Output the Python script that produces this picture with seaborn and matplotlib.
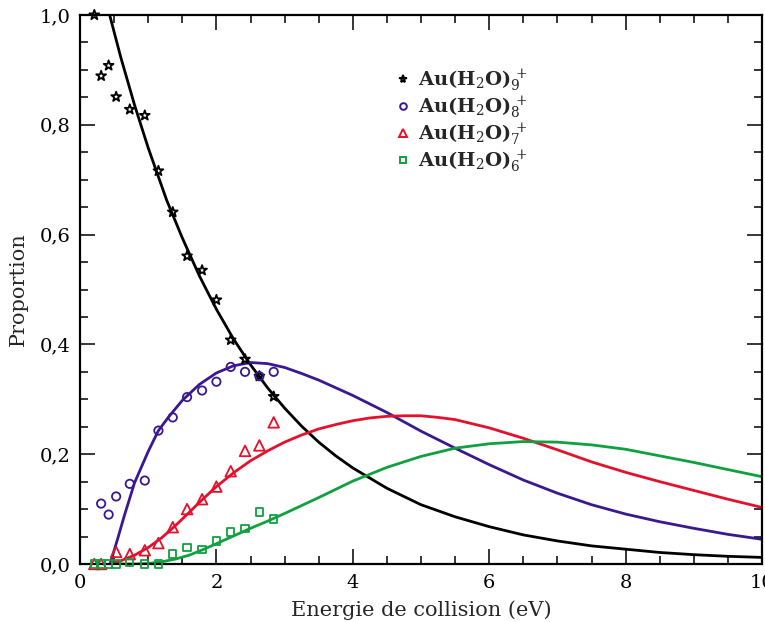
import numpy as np
import pandas as pd
import matplotlib
matplotlib.use("Agg")
import matplotlib.pyplot as plt
import seaborn as sns
from matplotlib.ticker import MultipleLocator, FuncFormatter

# ---------------- data ----------------
x_pts = [0.21, 0.31, 0.42, 0.53, 0.73, 0.95, 1.15, 1.36, 1.57, 1.79, 2.00, 2.21, 2.42, 2.63, 2.84]
y9 = [1.000, 0.889, 0.908, 0.851, 0.828, 0.817, 0.716, 0.641, 0.561, 0.535, 0.481, 0.408, 0.373, 0.342, 0.305]
y8 = [np.nan, 0.110, 0.090, 0.123, 0.146, 0.152, 0.243, 0.267, 0.304, 0.316, 0.332, 0.359, 0.350, 0.342, 0.350]
y7 = [0.000, 0.000, np.nan, 0.022, 0.018, 0.025, 0.038, 0.067, 0.100, 0.118, 0.141, 0.169, 0.206, 0.216, 0.258]
y6 = [0.000, 0.000, 0.000, 0.000, 0.003, 0.000, 0.000, 0.018, 0.030, 0.027, 0.042, 0.058, 0.065, 0.095, 0.082]

c9_x = [0.435, 0.6, 0.8, 1.0, 1.27, 1.5, 1.75, 2.0, 2.25, 2.5, 2.75, 3.0, 3.25, 3.5, 3.75, 4.0, 4.5, 5.0, 5.5, 6.0, 6.5, 7.0, 7.5, 8.0, 8.5, 9.0, 9.5, 10.0]
c9_y = [1.000, 0.922, 0.836, 0.758, 0.663, 0.594, 0.525, 0.464, 0.410, 0.363, 0.321, 0.284, 0.251, 0.222, 0.197, 0.175, 0.138, 0.108, 0.086, 0.068, 0.053, 0.042, 0.033, 0.027, 0.021, 0.017, 0.014, 0.012]

c8_x = [0.44, 0.55, 0.65, 0.8, 1.0, 1.15, 1.3, 1.5, 1.75, 2.0, 2.25, 2.5, 2.75, 3.0, 3.25, 3.5, 3.75, 4.0, 4.5, 5.0, 5.5, 6.0, 6.5, 7.0, 7.5, 8.0, 8.5, 9.0, 9.5, 10.0]
c8_y = [0.000, 0.045, 0.088, 0.148, 0.205, 0.243, 0.268, 0.298, 0.327, 0.348, 0.361, 0.367, 0.365, 0.358, 0.347, 0.335, 0.321, 0.307, 0.276, 0.242, 0.211, 0.181, 0.153, 0.129, 0.108, 0.091, 0.077, 0.065, 0.054, 0.045]

c7_x = [0.44, 0.6, 0.8, 1.0, 1.2, 1.4, 1.6, 1.8, 2.0, 2.25, 2.5, 2.75, 3.0, 3.25, 3.5, 3.75, 4.0, 4.25, 4.5, 4.75, 5.0, 5.25, 5.5, 6.0, 6.5, 7.0, 7.5, 8.0, 8.5, 9.0, 9.5, 10.0]
c7_y = [0.000, 0.006, 0.016, 0.030, 0.048, 0.070, 0.094, 0.118, 0.141, 0.166, 0.188, 0.206, 0.222, 0.235, 0.246, 0.254, 0.261, 0.266, 0.269, 0.270, 0.270, 0.267, 0.263, 0.248, 0.229, 0.208, 0.186, 0.167, 0.150, 0.134, 0.118, 0.103]

c6_x = [0.44, 0.8, 1.0, 1.2, 1.4, 1.6, 1.8, 2.0, 2.25, 2.5, 2.75, 3.0, 3.5, 4.0, 4.5, 5.0, 5.5, 6.0, 6.5, 7.0, 7.5, 8.0, 8.5, 9.0, 9.5, 10.0]
c6_y = [0.000, 0.000, 0.001, 0.004, 0.009, 0.016, 0.026, 0.037, 0.051, 0.065, 0.078, 0.092, 0.121, 0.151, 0.176, 0.196, 0.211, 0.219, 0.223, 0.222, 0.217, 0.209, 0.197, 0.185, 0.172, 0.159]

labels = [r"Au(H$_2$O)$_9^{\,+}$", r"Au(H$_2$O)$_8^{\,+}$", r"Au(H$_2$O)$_7^{\,+}$", r"Au(H$_2$O)$_6^{\,+}$"]
x_ticks = [0, 2, 4, 6, 8, 10]
y_ticks = [0.0, 0.2, 0.4, 0.6, 0.8, 1.0]
x_label = "Energie de collision (eV)"
y_label = "Proportion"

# ---------------- style ----------------
sns.set_style("ticks")
plt.rcParams["font.family"] = ["DejaVu Serif"]
plt.rcParams["mathtext.fontset"] = "dejavuserif"

col9, col8, col7, col6 = "#000000", "#3a1890", "#e5102c", "#10a040"

fig = plt.figure(figsize=(7.65, 6.22), dpi=100)
ax = fig.add_axes([80 / 765, 1 - 564 / 622, 682 / 765, 549 / 622])

# curves
for cx, cy, c in [(c9_x, c9_y, col9), (c8_x, c8_y, col8), (c7_x, c7_y, col7), (c6_x, c6_y, col6)]:
    sns.lineplot(x=cx, y=cy, color=c, linewidth=2.0, ax=ax, sort=False, zorder=2)

# markers
handles = []
for ys, c, m, s in zip([y9, y8, y7, y6], [col9, col8, col7, col6], ["*", "o", "^", "s"], [55, 36, 58, 28]):
    df = pd.DataFrame({"x": x_pts, "y": ys}).dropna()
    sns.scatterplot(data=df, x="x", y="y", marker=m, s=s, facecolors="none",
                    edgecolors=c, linewidth=1.3, ax=ax, zorder=3, clip_on=False)
    handles.append(plt.Line2D([], [], linestyle="none", marker=m, markersize=np.sqrt(s) * 0.8,
                              markerfacecolor="none", markeredgecolor=c, markeredgewidth=1.4))

ax.set_xlim(0, 10)
ax.set_ylim(0, 1.0)
ax.set_xticks(x_ticks)
ax.set_yticks(y_ticks)
ax.xaxis.set_minor_locator(MultipleLocator(0.5))
ax.yaxis.set_minor_locator(MultipleLocator(0.05))
ax.yaxis.set_major_formatter(FuncFormatter(lambda v, p: f"{v:.1f}".replace(".", ",")))
ax.xaxis.set_major_formatter(FuncFormatter(lambda v, p: f"{v:g}"))
ax.tick_params(which="both", direction="in", top=True, right=True, width=1.1, colors="black")
ax.tick_params(which="major", length=11, labelsize=14, pad=7)
ax.tick_params(which="minor", length=5.5)
for sp in ax.spines.values():
    sp.set_visible(True)
    sp.set_linewidth(1.6)
    sp.set_color("black")

ax.set_xlabel(x_label, fontsize=15, labelpad=6)
ax.set_ylabel(y_label, fontsize=15, labelpad=8)

leg = ax.legend(handles, labels, loc="upper left", bbox_to_anchor=(0.448, 0.919),
                frameon=False, fontsize=14, handletextpad=0.25, labelspacing=0.0,
                handlelength=1.0, borderaxespad=0)
for t in leg.get_texts():
    t.set_fontweight("bold")

fig.savefig("out.png", dpi=100)
